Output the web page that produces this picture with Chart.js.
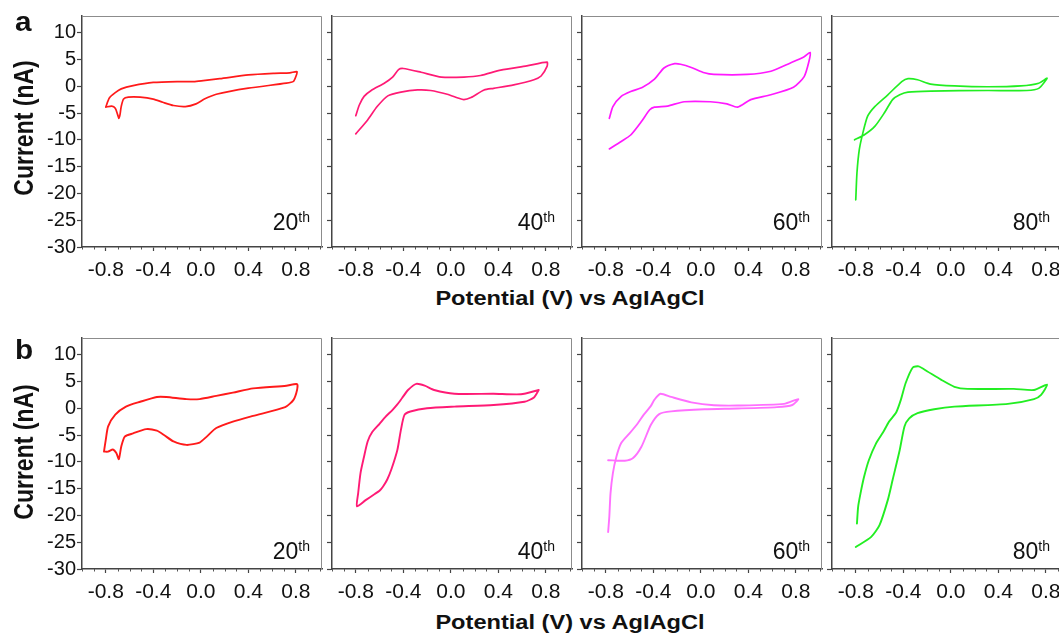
<!DOCTYPE html>
<html>
<head>
<meta charset="utf-8">
<script src="https://cdn.jsdelivr.net/npm/chart.js@4.4.1/dist/chart.umd.min.js"></script>
<style>
  html, body { margin:0; padding:0; width:1059px; height:636px; overflow:hidden; background:#fff; }
  #wrap { position:relative; width:1059px; height:636px; overflow:hidden; font-family:'Liberation Sans', Arial, Helvetica, sans-serif; color:#111; }
  #wrap canvas { position:absolute; }
  .t { position:absolute; white-space:nowrap; line-height:1; }
</style>
</head>
<body>
<div id="wrap"></div>
<script>
// ---------------- text / ticks ----------------
const xTickValues = [-0.8, -0.4, 0.0, 0.4, 0.8];
const yTickValues = [-30, -25, -20, -15, -10, -5, 0, 5, 10];
const cycleNames  = ['20', '40', '60', '80'];
const rowLetters  = ['a', 'b'];
const xTitle = 'Potential (V) vs AgIAgCl';
const yTitle = 'Current (nA)';

// ---------------- data: potential (V) / current (nA) ----------------
// row a
const a20E = [-0.80,-0.77,-0.72,-0.67,-0.57,-0.40,-0.20,-0.06,0.02,0.16,0.40,0.61,0.75,0.81,
              0.80,0.78,0.72,0.40,0.13,0.03,-0.04,-0.13,-0.23,-0.32,-0.40,-0.51,-0.61,-0.65,-0.67,-0.68,-0.69,-0.70,-0.72,-0.75,-0.80];
const a20I = [-3.9,-2.2,-1.2,-0.5,0.1,0.7,0.87,0.87,1.05,1.4,2.1,2.4,2.5,2.7,
              1.8,0.9,0.56,-0.37,-1.5,-2.4,-3.3,-3.8,-3.6,-3.0,-2.4,-2.05,-2.05,-2.4,-3.8,-5.3,-6.0,-5.3,-4.1,-3.7,-3.9];

const a40E = [-0.80,-0.77,-0.73,-0.67,-0.56,-0.49,-0.44,-0.40,-0.25,-0.08,0.11,0.25,0.42,0.64,0.81,
              0.81,0.76,0.70,0.53,0.36,0.28,0.17,0.11,0.06,-0.03,-0.17,-0.28,-0.42,-0.53,-0.62,-0.70,-0.80];
const a40I = [-5.5,-3.5,-1.9,-0.8,0.56,1.7,3.1,3.3,2.6,1.7,1.7,2.0,3.0,3.8,4.5,
              3.7,1.9,1.2,0.25,-0.4,-0.7,-2.1,-2.5,-2.2,-1.5,-0.8,-0.7,-1.1,-1.8,-3.8,-6.3,-8.9];

const a60E = [-0.77,-0.74,-0.67,-0.59,-0.49,-0.39,-0.31,-0.22,-0.17,-0.08,0.03,0.11,0.39,0.59,0.75,0.87,0.92,
              0.91,0.87,0.78,0.59,0.42,0.31,0.22,0.08,-0.14,-0.28,-0.39,-0.43,-0.50,-0.59,-0.67,-0.77];
const a60I = [-6.0,-3.8,-1.9,-1.0,-0.2,1.3,3.4,4.2,4.1,3.5,2.5,2.2,2.2,2.8,4.3,5.5,6.3,
              4.6,1.8,-0.2,-1.6,-2.5,-3.9,-3.3,-2.9,-2.9,-3.7,-3.9,-4.4,-6.6,-9.1,-10.3,-11.7];

const a80E = [-0.81,-0.73,-0.64,-0.56,-0.49,-0.43,-0.36,-0.17,0.31,0.64,0.74,0.81,
              0.74,0.59,0.31,0.03,-0.17,-0.28,-0.36,-0.41,-0.53,-0.64,-0.70,-0.74,-0.77,-0.79,-0.80];
const a80I = [-10.0,-9.1,-7.5,-5.0,-2.5,-1.6,-1.1,-0.9,-0.8,-0.8,-0.4,1.5,
              0.56,0.06,-0.1,0.06,0.4,1.2,1.4,0.9,-1.6,-3.8,-5.6,-8.7,-11.8,-16.2,-21.2];

// row b
const b20E = [-0.815,-0.80,-0.78,-0.72,-0.63,-0.51,-0.37,-0.29,-0.12,-0.01,0.13,0.27,0.44,0.72,0.81,
              0.81,0.78,0.71,0.44,0.27,0.13,0.05,-0.01,-0.12,-0.23,-0.31,-0.37,-0.46,-0.57,-0.64,-0.67,-0.69,-0.71,-0.74,-0.78,-0.815];
const b20I = [-8.1,-5.9,-3.4,-1.2,0.3,1.2,2.1,2.1,1.7,1.7,2.3,2.9,3.7,4.2,4.5,
              3.4,1.56,0.19,-1.43,-2.5,-3.7,-5.3,-6.4,-6.85,-6.2,-5.0,-4.2,-3.9,-4.7,-5.3,-7.2,-9.5,-8.4,-7.7,-8.1,-8.1];

const b40E = [0.74,0.59,0.36,0.03,-0.14,-0.22,-0.29,-0.36,-0.41,-0.45,-0.49,-0.55,-0.60,-0.66,-0.70,-0.73,-0.76,-0.78,-0.79,
              -0.72,-0.64,-0.60,-0.57,-0.535,-0.50,-0.45,-0.42,-0.39,-0.34,-0.20,0.03,0.36,0.62,0.70,0.74];
const b40I = [3.4,2.6,2.7,2.7,3.4,4.2,4.55,3.4,1.9,0.7,-0.3,-1.6,-2.9,-4.4,-6.2,-9.0,-12.1,-15.9,-18.3,
              -17.2,-16.0,-15.4,-14.6,-13.3,-11.4,-7.8,-4.05,-1.25,-0.62,0.0,0.3,0.6,1.2,2.0,3.4];

const b60E = [-0.78,-0.77,-0.76,-0.74,-0.71,-0.67,-0.60,-0.53,-0.48,-0.42,-0.39,-0.34,-0.25,-0.08,0.11,0.31,0.70,0.82,
              0.77,0.64,0.31,0.03,-0.25,-0.35,-0.42,-0.50,-0.57,-0.64,-0.78];
const b60I = [-23.1,-20.2,-15.9,-12.1,-9.0,-6.5,-4.7,-2.8,-1.2,0.44,1.6,2.7,2.1,1.1,0.56,0.5,0.8,1.7,
              0.6,0.2,-0.06,-0.2,-0.6,-1.1,-3.1,-7.2,-9.3,-9.8,-9.7];

const b80E = [-0.79,-0.78,-0.76,-0.73,-0.69,-0.63,-0.57,-0.52,-0.46,-0.42,-0.38,-0.32,-0.27,-0.20,-0.08,0.03,0.14,0.53,0.70,0.81,
              0.76,0.70,0.48,0.03,-0.14,-0.28,-0.35,-0.39,-0.43,-0.49,-0.53,-0.60,-0.67,-0.80];
const b80I = [-21.5,-18.4,-15.9,-12.8,-9.7,-6.6,-4.5,-2.5,-0.8,1.6,4.7,7.6,7.8,6.9,5.3,4.0,3.6,3.6,3.4,4.4,
              2.5,1.7,0.8,0.3,-0.19,-0.93,-1.9,-3.4,-7.8,-13.4,-17.1,-21.8,-24.0,-25.9];

const rowE = [[a20E, a40E, a60E, a80E], [b20E, b40E, b60E, b80E]];
const rowI = [[a20I, a40I, a60I, a80I], [b20I, b40I, b60I, b80I]];

// ---------------- styles & layout ----------------
const lineColors = [['#ff1a1a', '#ff1a75', '#ff19ff', '#22ee22'],
                    ['#ff1a1a', '#ff1a75', '#ff70ff', '#22ee22']];
const lineWidths = [1.7, 1.9];
const FONT = "'Liberation Sans', Arial, Helvetica, sans-serif";
const ROW_TOP = [16, 338];
const PLOT_H = 231;
const COL_LEFT = [82, 332, 582, 832];
const PLOT_W = 240;
const AX_W = 80, PAD_T = 14, PAD_R = 10, AX_H = 40;
const X_MIN = -1.0, X_MAX = 1.02, Y_MIN = -30, Y_MAX = 13.1;
const CYCLE_RIGHT = [310, 555, 810, 1050];
const CYCLE_BASE = [230, 559];

const wrap = document.getElementById('wrap');

const framePlugin = {
  id: 'frame',
  afterDraw(chart) {
    const { ctx, chartArea: ca, scales } = chart;
    ctx.save();
    ctx.strokeStyle = '#8c8c8c';
    ctx.lineWidth = 1;
    ctx.beginPath();
    ctx.moveTo(ca.left, ca.top + 0.5);
    ctx.lineTo(ca.right - 0.5, ca.top + 0.5);
    ctx.lineTo(ca.right - 0.5, ca.bottom);
    ctx.stroke();
    // minor x ticks
    ctx.strokeStyle = '#555';
    for (let i = -10; i <= 10; i++) {
      if (i % 4 === 0 && Math.abs(i) <= 8) continue;
      const px = Math.round(scales.x.getPixelForValue(i / 10)) + 0.5;
      if (px < ca.left || px > ca.right) continue;
      ctx.beginPath();
      ctx.moveTo(px, ca.bottom);
      ctx.lineTo(px, ca.bottom + 2.5);
      ctx.stroke();
    }
    ctx.restore();
  }
};

function makePanel(r, c) {
  const cv = document.createElement('canvas');
  const w = AX_W + PLOT_W + PAD_R, h = PAD_T + PLOT_H + AX_H;
  cv.width = w; cv.height = h;
  cv.style.left = (COL_LEFT[c] - AX_W) + 'px';
  cv.style.top = (ROW_TOP[r] - PAD_T) + 'px';
  cv.style.width = w + 'px'; cv.style.height = h + 'px';
  wrap.appendChild(cv);
  const E = rowE[r][c], I = rowI[r][c];
  new Chart(cv, {
    type: 'scatter',
    data: { datasets: [{
      data: E.map((e, i) => ({ x: e, y: I[i] })),
      showLine: true, borderColor: lineColors[r][c], borderWidth: lineWidths[r],
      pointRadius: 0, tension: 0.22, fill: false,
      borderJoinStyle: 'round', borderCapStyle: 'round'
    }]},
    options: {
      responsive: false, animation: false, devicePixelRatio: 1, events: [],
      layout: { padding: { top: PAD_T, right: PAD_R, left: 0, bottom: 0 } },
      plugins: { legend: { display: false }, tooltip: { enabled: false } },
      scales: {
        x: {
          type: 'linear', min: X_MIN, max: X_MAX,
          afterBuildTicks: s => { s.ticks = xTickValues.map(v => ({ value: v })); },
          afterFit: s => { s.height = AX_H; },
          grid: { display: true, drawOnChartArea: false, drawTicks: true, tickLength: 4, tickColor: '#444', tickWidth: 1.2 },
          border: { display: true, color: '#444', width: 1.5 },
          ticks: { color: '#111', font: { family: FONT, size: 21 }, padding: 7, maxRotation: 0, autoSkip: false,
                   callback: v => Number(v).toFixed(1) }
        },
        y: {
          type: 'linear', min: Y_MIN, max: Y_MAX,
          afterBuildTicks: s => { s.ticks = yTickValues.map(v => ({ value: v })); },
          afterFit: s => { s.width = AX_W; },
          grid: { display: true, drawOnChartArea: false, drawTicks: true, tickLength: 5, tickColor: '#444', tickWidth: 1.2 },
          border: { display: true, color: '#444', width: 1.5 },
          ticks: { display: c === 0, color: '#111', font: { family: FONT, size: 20 }, padding: 1,
                   callback: v => String(v) }
        }
      }
    },
    plugins: [framePlugin]
  });
}

for (let r = 0; r < 2; r++) for (let c = 0; c < 4; c++) makePanel(r, c);

// ---------------- HTML text ----------------
function addDiv(html, css) {
  const d = document.createElement('div');
  d.className = 't';
  d.innerHTML = html;
  Object.assign(d.style, css);
  wrap.appendChild(d);
  return d;
}

const X_TITLE_CY = [297.5, 621.5];
const Y_TITLE_CY = [128, 452];
const LETTER_BASE = [32, 360];

for (let r = 0; r < 2; r++) {
  // x title
  addDiv(xTitle, { left: '570px', top: X_TITLE_CY[r] + 'px', fontSize: '20px', fontWeight: 'bold',
                   transform: 'translate(-50%,-50%) scaleX(1.18)' });
  // y title
  addDiv(yTitle, { left: '24px', top: Y_TITLE_CY[r] + 'px', fontSize: '23px', fontWeight: 'bold',
                   transform: 'translate(-50%,-50%) rotate(-90deg) scaleY(1.2)' });
  // panel letter
  const fs = 27;
  addDiv(rowLetters[r], { left: '15px', top: (LETTER_BASE[r] - 0.8465 * fs) + 'px', fontSize: fs + 'px', fontWeight: 'bold',
                          transform: 'scaleX(1.1)', transformOrigin: 'left top' });
  // cycle labels
  for (let c = 0; c < 4; c++) {
    addDiv(cycleNames[c] + '<span style="font-size:14px;position:relative;top:-8px;">th</span>',
           { left: CYCLE_RIGHT[c] + 'px', top: (CYCLE_BASE[r] - 0.8465 * 23) + 'px', fontSize: '23px',
             transform: 'translateX(-100%)' });
  }
}
</script>
</body>
</html>
